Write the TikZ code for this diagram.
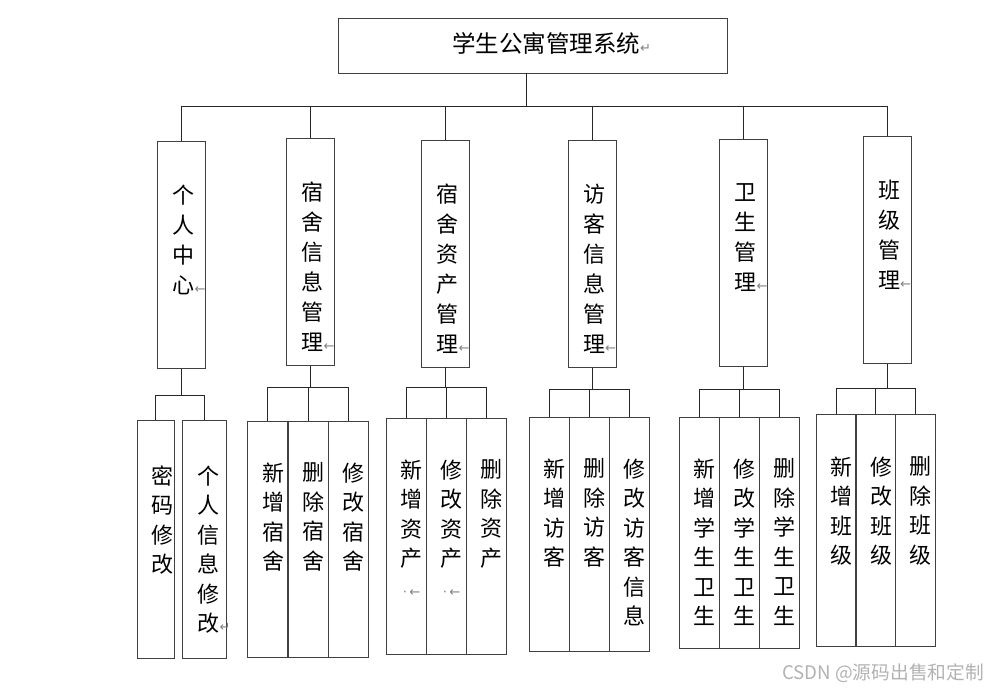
\documentclass[tikz,border=0pt]{standalone}
\usepackage{fontspec}
\setmainfont{Liberation Serif}
\newfontfamily\cjk{Noto Sans CJK SC}
\newfontfamily\symfont{DejaVu Sans}
\usetikzlibrary{positioning}
\newcommand{\parmark}[1]{\rlap{\symfont\fontsize{13}{13}\selectfont\color{gray}#1}}
\newcommand{\dotmark}{{\symfont\fontsize{13}{13}\selectfont\color{gray}·\,←}}

\begin{document}
\begin{tikzpicture}[
				x=1pt, y=-1pt,
				sysbox/.style={
					rectangle, 
					draw=black!75, 
					line width=0.9pt, 
					minimum width=389pt, 
					minimum height=55pt, 
					inner sep=0pt
					},
				modbox/.style={
					rectangle, 
					draw=black!75, 
					line width=0.9pt, 
					minimum width=48pt, 
					minimum height=227pt, 
					inner sep=0pt
					},
				leafbox/.style={
					rectangle, 
					draw=black!75, 
					line width=0.9pt, 
					minimum width=40pt, 
					inner sep=0pt
					},
				modtext/.style={
					anchor=north, 
					inner sep=0pt, 
					align=center, 
					font=\cjk\fontsize{22}{30}\selectfont
					},
				leaftext/.style={
					modtext, 
					font=\cjk\fontsize{22}{29.5}\selectfont
					},
				link/.style={
					draw=black!85,
					line width=0.8pt
					}]
			    \useasboundingbox (0,0) rectangle (988,692);
			    % Place nodes
			    \node [sysbox] (sys) at (532.5,45.5) {};
			    \node [inner sep=0pt, font=\cjk\fontsize{23.5}{28}\selectfont] (systitle) at (546,43) {学生公寓管理系统\parmark{↵}};

			    \node [modbox] (personal) at (181.5,255) {};
			    \node [modbox] (dorm) at (310.5,252) {};
			    \node [modbox] (asset) at (445.5,253.5) {};
			    \node [modbox] (visitor) at (592,254) {};
			    \node [modbox] (hygiene) at (743.5,253) {};
			    \node [modbox] (class) at (887,250) {};

			    \node [modtext] (personalt) at ([xshift=26.5pt,yshift=-44pt]personal.north west) {个\\人\\中\\心\parmark{←}};
			    \node [modtext] (dormt) at ([xshift=26.5pt,yshift=-44pt]dorm.north west) {宿\\舍\\信\\息\\管\\理\parmark{←}};
			    \node [modtext] (assett) at ([xshift=26.5pt,yshift=-44pt]asset.north west) {宿\\舍\\资\\产\\管\\理\parmark{←}};
			    \node [modtext] (visitort) at ([xshift=26.5pt,yshift=-44pt]visitor.north west) {访\\客\\信\\息\\管\\理\parmark{←}};
			    \node [modtext] (hygienet) at ([xshift=26.5pt,yshift=-44pt]hygiene.north west) {卫\\生\\管\\理\parmark{←}};
			    \node [modtext] (classt) at ([xshift=26.5pt,yshift=-44pt]class.north west) {班\\级\\管\\理\parmark{←}};

			    \node [leafbox, minimum width=37pt, minimum height=238pt] (pwd) at (155.5,539) {};
			    \node [leafbox, minimum width=44pt, minimum height=238pt] (info) at (204,539) {};
			    \node [leafbox, minimum height=236pt] (newdorm) at (267.5,539) {};
			    \node [leafbox, minimum height=236pt] (deldorm) at (308,539) {};
			    \node [leafbox, minimum height=236pt] (editdorm) at (348,539) {};
			    \node [leafbox, minimum height=236pt] (newasset) at (406,536) {};
			    \node [leafbox, minimum height=236pt] (editasset) at (446,536) {};
			    \node [leafbox, minimum height=236pt] (delasset) at (486,536) {};
			    \node [leafbox, minimum height=234pt] (newvis) at (549,534) {};
			    \node [leafbox, minimum height=234pt] (delvis) at (589,534) {};
			    \node [leafbox, minimum height=234pt] (editvis) at (629,534) {};
			    \node [leafbox, minimum height=231pt] (newhyg) at (699,532.5) {};
			    \node [leafbox, minimum height=231pt] (edithyg) at (739,532.5) {};
			    \node [leafbox, minimum height=231pt] (delhyg) at (779,532.5) {};
			    \node [leafbox, minimum height=232pt] (newcls) at (836,530) {};
			    \node [leafbox, minimum height=232pt] (editcls) at (875.5,530) {};
			    \node [leafbox, minimum height=232pt] (delcls) at (915,530) {};

			    \node [leaftext] (pwdt) at ([xshift=26pt,yshift=-46pt]pwd.north west) {密\\码\\修\\改};
			    \node [leaftext] (infot) at ([xshift=27pt,yshift=-46pt]info.north west) {个\\人\\信\\息\\修\\改\parmark{↵}};
			    \node [leaftext] (newdormt) at ([xshift=26pt,yshift=-42pt]newdorm.north west) {新\\增\\宿\\舍};
			    \node [leaftext] (deldormt) at ([xshift=26pt,yshift=-42pt]deldorm.north west) {删\\除\\宿\\舍};
			    \node [leaftext] (editdormt) at ([xshift=26pt,yshift=-42pt]editdorm.north west) {修\\改\\宿\\舍};
			    \node [leaftext] (newassett) at ([xshift=26pt,yshift=-42pt]newasset.north west) {新\\增\\资\\产\\\dotmark};
			    \node [leaftext] (editassett) at ([xshift=26pt,yshift=-42pt]editasset.north west) {修\\改\\资\\产\\\dotmark};
			    \node [leaftext] (delassett) at ([xshift=26pt,yshift=-42pt]delasset.north west) {删\\除\\资\\产};
			    \node [leaftext] (newvist) at ([xshift=26pt,yshift=-42pt]newvis.north west) {新\\增\\访\\客};
			    \node [leaftext] (delvist) at ([xshift=26pt,yshift=-42pt]delvis.north west) {删\\除\\访\\客};
			    \node [leaftext] (editvist) at ([xshift=26pt,yshift=-42pt]editvis.north west) {修\\改\\访\\客\\信\\息};
			    \node [leaftext] (newhygt) at ([xshift=26pt,yshift=-42pt]newhyg.north west) {新\\增\\学\\生\\卫\\生};
			    \node [leaftext] (edithygt) at ([xshift=26pt,yshift=-42pt]edithyg.north west) {修\\改\\学\\生\\卫\\生};
			    \node [leaftext] (delhygt) at ([xshift=26pt,yshift=-42pt]delhyg.north west) {删\\除\\学\\生\\卫\\生};
			    \node [leaftext] (newclst) at ([xshift=26pt,yshift=-43pt]newcls.north west) {新\\增\\班\\级};
			    \node [leaftext] (editclst) at ([xshift=26pt,yshift=-43pt]editcls.north west) {修\\改\\班\\级};
			    \node [leaftext] (delclst) at ([xshift=26pt,yshift=-43pt]delcls.north west) {删\\除\\班\\级};

			    \node [anchor=east, inner sep=0pt, text=black!30, font=\cjk\fontsize{18.7}{19}\selectfont] (watermark) at (984,673) {CSDN @源码出售和定制};

			    % Draw edges
			    \coordinate [below=33pt of sys.south, xshift=-6.5pt] (bus);
			    \path [link] ([xshift=-6.5pt]sys.south) -- (bus);
			    \path [link] (bus) -| (personal.north);
			    \path [link] (bus) -| (dorm.north);
			    \path [link] (bus) -| (asset.north);
			    \path [link] (bus) -| (visitor.north);
			    \path [link] (bus) -| (hygiene.north);
			    \path [link] (bus) -| (class.north);

			    \coordinate [below=26pt of personal.south] (personalj);
			    \path [link] (personal.south) -- (personalj);
			    \path [link] (personalj) -| (pwd.north);
			    \path [link] (personalj) -| (info.north);

			    \coordinate [below=21pt of dorm.south] (dormj);
			    \path [link] (dorm.south) -- (dormj);
			    \path [link] (dormj) -| (newdorm.north);
			    \path [link] (dormj) -| (deldorm.north);
			    \path [link] (dormj) -| (editdorm.north);

			    \coordinate [below=20pt of asset.south] (assetj);
			    \path [link] (asset.south) -- (assetj);
			    \path [link] (assetj) -| (newasset.north);
			    \path [link] (assetj) -| (editasset.north);
			    \path [link] (assetj) -| (delasset.north);

			    \coordinate [below=21pt of visitor.south] (visitorj);
			    \path [link] (visitor.south) -- (visitorj);
			    \path [link] (visitorj) -| (newvis.north);
			    \path [link] (visitorj) -| (delvis.north);
			    \path [link] (visitorj) -| (editvis.north);

			    \coordinate [below=22pt of hygiene.south] (hygienej);
			    \path [link] (hygiene.south) -- (hygienej);
			    \path [link] (hygienej) -| (newhyg.north);
			    \path [link] (hygienej) -| (edithyg.north);
			    \path [link] (hygienej) -| (delhyg.north);

			    \coordinate [below=24pt of class.south] (classj);
			    \path [link] (class.south) -- (classj);
			    \path [link] (classj) -| (newcls.north);
			    \path [link] (classj) -| (editcls.north);
			    \path [link] (classj) -| (delcls.north);
			\end{tikzpicture}
\end{document}
